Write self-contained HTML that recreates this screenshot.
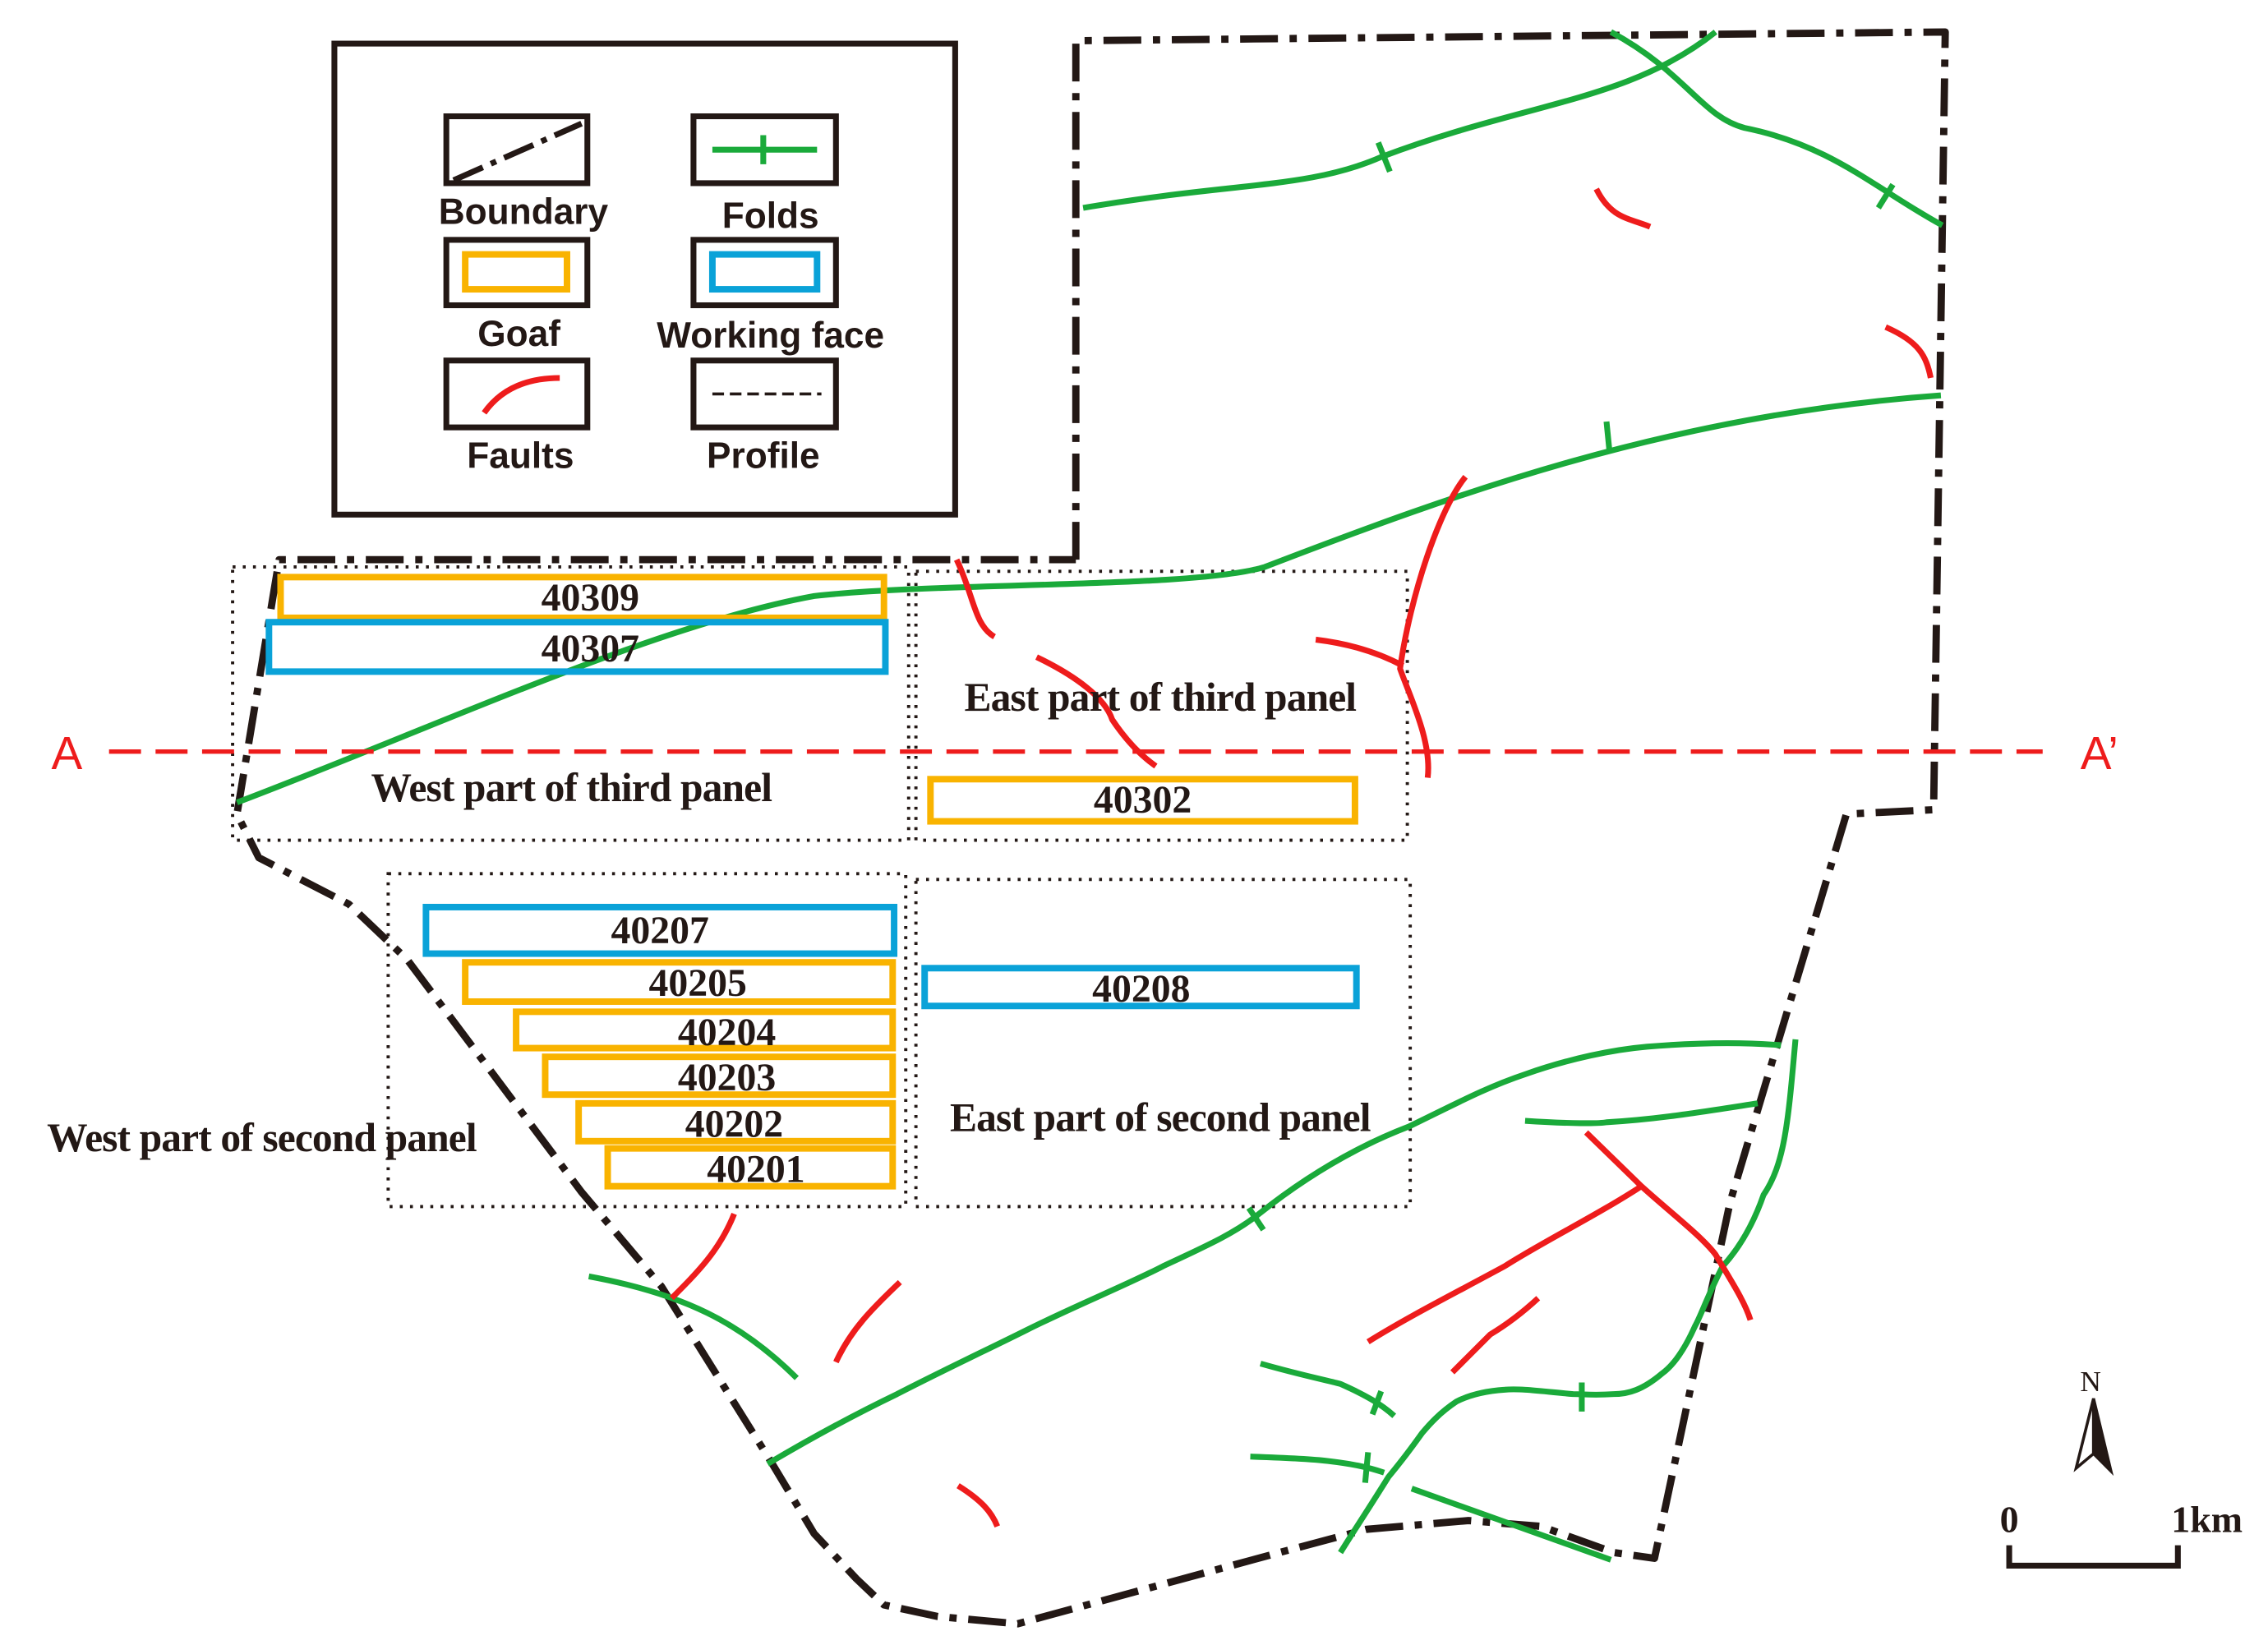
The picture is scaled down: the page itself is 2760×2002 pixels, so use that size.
<!DOCTYPE html>
<html><head><meta charset="utf-8"><style>
html,body{margin:0;padding:0;background:#fff;}
svg{display:block;}
.leg{font-family:"Liberation Sans",sans-serif;font-weight:bold;font-size:25px;fill:#231815;text-anchor:middle;}
.num{font-family:"Liberation Serif",serif;font-weight:bold;font-size:27px;fill:#231815;text-anchor:middle;}
.pan{font-family:"Liberation Serif",serif;font-weight:bold;font-size:28px;fill:#231815;text-anchor:middle;letter-spacing:-0.5px;}
.g{fill:none;stroke:#1aaa3a;stroke-width:4;stroke-linejoin:round;}
.r{fill:none;stroke:#ee1c1c;stroke-width:4;stroke-linejoin:round;}
.o{fill:none;stroke:#f9b300;stroke-width:4.5;}
.b{fill:none;stroke:#0aa2d8;stroke-width:4.5;}
.d{fill:none;stroke:#231815;stroke-width:2.2;stroke-dasharray:2 5;}
</style></head><body>
<svg width="2760" height="2002" viewBox="0 0 1560 1131.6" preserveAspectRatio="none" xmlns="http://www.w3.org/2000/svg">
<rect width="1560" height="1132" fill="#fff"/>
<!-- legend -->
<rect x="230" y="30" width="427" height="324" fill="none" stroke="#231815" stroke-width="4"/>
<g fill="none" stroke="#231815" stroke-width="4">
<rect x="307" y="80" width="97" height="46"/>
<rect x="477" y="80" width="98" height="46"/>
<rect x="307" y="165" width="97" height="45"/>
<rect x="477" y="165" width="98" height="45"/>
<rect x="307" y="248" width="97" height="46"/>
<rect x="477" y="248" width="98" height="46"/>
</g>
<line x1="312" y1="124" x2="400" y2="85" stroke="#231815" stroke-width="4" stroke-dasharray="22 6 4 6"/>
<line x1="490" y1="103" x2="562" y2="103" class="g"/>
<line x1="525" y1="93" x2="525" y2="113" class="g"/>
<rect x="320" y="175" width="70" height="24" class="o"/>
<rect x="490" y="175" width="72" height="24" class="b"/>
<path d="M333,284 Q350,260 385,260" class="r"/>
<line x1="490" y1="271" x2="565" y2="271" stroke="#231815" stroke-width="2" stroke-dasharray="8 4"/>
<text x="360" y="154" class="leg">Boundary</text>
<text x="530" y="157" class="leg">Folds</text>
<text x="357" y="238" class="leg">Goaf</text>
<text x="530" y="239" class="leg">Working face</text>
<text x="358" y="322" class="leg">Faults</text>
<text x="525" y="322" class="leg">Profile</text>
<!-- dotted panels -->
<rect x="160" y="390" width="465" height="188" class="d"/>
<rect x="630" y="393" width="338" height="185" class="d"/>
<rect x="267" y="601" width="356" height="229" class="d"/>
<rect x="630" y="605" width="340" height="225" class="d"/>
<!-- boundary -->
<polyline points="740,385 740,28 1338,22 1330,557 1270,560 1190,827 1138,1072 1110,1068 1060,1050 1010,1046 940,1052 880,1068 700,1117 645,1112 608,1104 589,1086 560,1055 530,1005 455,885 400,820 280,660 240,622 178,590 163,560 192,385 740,385" fill="none" stroke="#231815" stroke-width="5" stroke-dasharray="26 8 5 8" stroke-linejoin="round"/>
<!-- folds -->
<path class="g" d="M745,143 C850,125 900,130 950,108 C1050,70 1120,70 1180,22"/>
<line class="g" x1="948" y1="98" x2="956" y2="118"/>
<path class="g" d="M1108,22 C1160,50 1170,80 1200,88 C1260,100 1290,130 1336,155"/>
<line class="g" x1="1302" y1="127" x2="1292" y2="143"/>
<path class="g" d="M163,552 C300,500 450,430 560,410 C650,400 820,405 870,390 C1000,340 1150,285 1335,272"/>
<line class="g" x1="1105" y1="290" x2="1107" y2="310"/>
<path class="g" d="M528,1007 C560,988 590,972 617,959 C650,942 680,928 706,915 C740,898 775,884 800,871 C830,857 850,848 866,835 C900,808 935,788 969,775 C1000,760 1022,748 1049,739 C1080,728 1110,722 1133,720 C1170,717 1200,717 1225,719"/>
<line class="g" x1="859" y1="831" x2="869" y2="846"/>
<path class="g" d="M1049,771 C1080,773 1100,773 1105,772 C1140,770 1170,765 1209,759"/>
<path class="g" d="M1235,715 C1230,770 1228,800 1213,822 C1205,845 1195,860 1185,871 C1175,890 1170,905 1166,912 C1158,930 1150,940 1143,945 C1130,956 1120,959 1110,959 C1095,960 1090,959 1082,959 C1060,957 1045,955 1035,956 C1020,957 1010,960 1002,964 C990,972 983,980 978,986 C968,1000 960,1010 955,1016 C940,1040 930,1055 922,1068"/>
<line class="g" x1="1088" y1="951" x2="1088" y2="971"/>
<path class="g" d="M405,878 C470,890 510,910 548,948"/>
<path class="g" d="M867,938 C895,946 915,950 922,952 C940,960 950,966 959,974"/>
<line class="g" x1="950" y1="957" x2="944" y2="973"/>
<path class="g" d="M860,1002 C890,1003 905,1004 913,1005 C930,1007 940,1009 952,1013"/>
<line class="g" x1="941" y1="999" x2="939" y2="1020"/>
<path class="g" d="M971,1024 L1108,1073"/>
<!-- faults -->
<path class="r" d="M1098,130 C1108,150 1120,150 1135,156"/>
<path class="r" d="M1297,225 C1320,235 1325,245 1328,260"/>
<path class="r" d="M1008,328 C990,350 970,410 963,460 C970,480 985,510 982,535"/>
<path class="r" d="M905,440 C930,443 950,450 965,458"/>
<path class="r" d="M658,385 C670,410 670,430 684,438"/>
<path class="r" d="M713,452 C740,465 760,480 765,495 C775,510 785,520 795,527"/>
<path class="r" d="M505,835 C495,860 480,875 462,893"/>
<path class="r" d="M619,882 C600,900 585,915 575,937"/>
<path class="r" d="M659,1022 C675,1032 682,1040 686,1050"/>
<path class="r" d="M1091,779 L1129,816 C1150,835 1170,850 1180,863 C1190,880 1200,895 1204,908"/>
<path class="r" d="M1129,816 C1100,835 1060,855 1035,871 C1000,890 970,905 941,923"/>
<path class="r" d="M1058,893 C1045,905 1035,912 1025,918 C1015,928 1005,938 999,944"/>
<!-- profile -->
<line x1="75" y1="517" x2="1405" y2="517" stroke="#ee1c1c" stroke-width="3" stroke-dasharray="22 10"/>
<text x="46" y="529" font-family="Liberation Sans,sans-serif" font-size="32" fill="#ee1c1c" text-anchor="middle">A</text>
<text x="1444" y="529" font-family="Liberation Sans,sans-serif" font-size="32" fill="#ee1c1c" text-anchor="middle">A’</text>
<!-- faces -->
<rect x="193" y="397" width="415" height="28" class="o"/>
<rect x="185" y="428" width="424" height="34" class="b"/>
<rect x="640" y="536" width="292" height="29" class="o"/>
<rect x="293" y="624" width="322" height="32" class="b"/>
<rect x="320" y="662" width="294" height="27" class="o"/>
<rect x="355" y="696" width="259" height="25" class="o"/>
<rect x="375" y="727" width="239" height="26" class="o"/>
<rect x="398" y="759" width="216" height="26" class="o"/>
<rect x="418" y="790" width="196" height="26" class="o"/>
<rect x="636" y="666" width="297" height="26" class="b"/>
<text x="406" y="420" class="num">40309</text>
<text x="406" y="455" class="num">40307</text>
<text x="786" y="559" class="num">40302</text>
<text x="454" y="649" class="num">40207</text>
<text x="480" y="685" class="num">40205</text>
<text x="500" y="719" class="num">40204</text>
<text x="500" y="750" class="num">40203</text>
<text x="505" y="782" class="num">40202</text>
<text x="520" y="813" class="num">40201</text>
<text x="785" y="689" class="num">40208</text>
<text x="798" y="489" class="pan">East part of third panel</text>
<text x="393" y="551" class="pan">West part of third panel</text>
<text x="798" y="778" class="pan">East part of second panel</text>
<text x="180" y="792" class="pan">West part of second panel</text>
<!-- north arrow -->
<text x="1438" y="957" font-family="Liberation Serif,serif" font-size="20" fill="#231815" text-anchor="middle">N</text>
<path d="M1440,962 L1428,1010 L1440,1000 Z" fill="#fff" stroke="#231815" stroke-width="2"/>
<path d="M1440,962 L1452,1012 L1440,1000 Z" fill="#231815" stroke="#231815" stroke-width="2"/>
<!-- scale -->
<polyline points="1382,1063 1382,1077 1498,1077 1498,1063" fill="none" stroke="#231815" stroke-width="4"/>
<text x="1382" y="1054" font-family="Liberation Serif,serif" font-weight="bold" font-size="26" fill="#231815" text-anchor="middle">0</text>
<text x="1518" y="1054" font-family="Liberation Serif,serif" font-weight="bold" font-size="26" fill="#231815" text-anchor="middle">1km</text>
</svg>
</body></html>
